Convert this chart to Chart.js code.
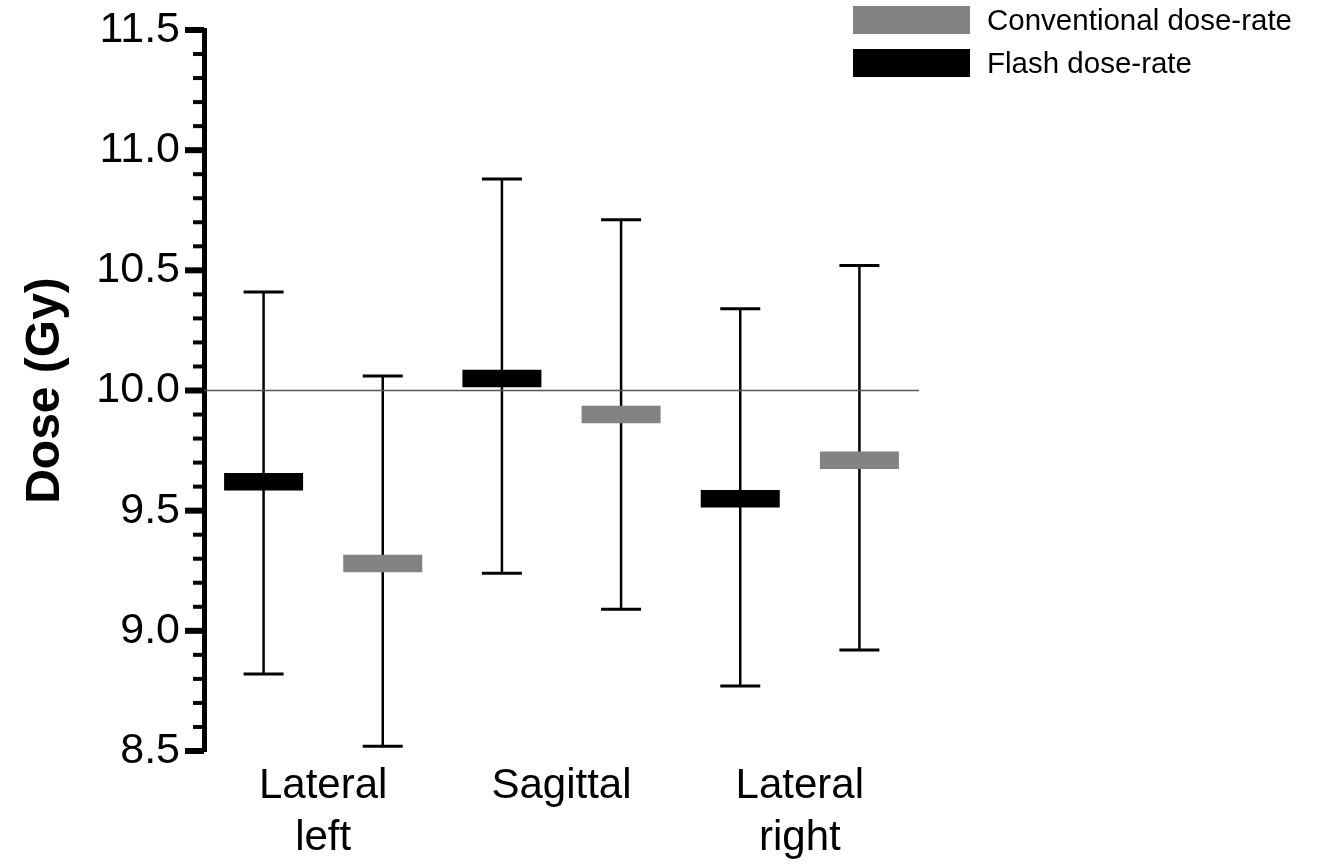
<!DOCTYPE html>
<html>
<head>
<meta charset="utf-8">
<script src="https://cdn.jsdelivr.net/npm/chart.js@4.4.1/dist/chart.umd.min.js"></script>
<style>
  body { margin: 0; background: #fff; }
  #wrap { position: relative; width: 1317px; height: 865px; }
  #legend { position: absolute; left: 853px; top: 6px; font-family: "Liberation Sans", Arial, sans-serif; font-size: 29.5px; color: #000; }
  .item { display: flex; align-items: center; height: 28px; margin-bottom: 15px; }
  .box { width: 117px; height: 28px; margin-right: 17px; }
</style>
</head>
<body>
<div id="wrap">
  <canvas id="chart"></canvas>
  <div id="legend"></div>
</div>
<script>
// groups along the x axis
var groups = [['Lateral', 'left'], ['Sagittal'], ['Lateral', 'right']];

// Flash dose-rate: mean and whisker ends (Gy)
var flashMean = [9.62, 10.05, 9.55];
var flashLow = [8.82, 9.24, 8.77];
var flashHigh = [10.41, 10.88, 10.34];

// Conventional dose-rate
var convMean = [9.28, 9.90, 9.71];
var convLow = [8.52, 9.09, 8.92];
var convHigh = [10.06, 10.71, 10.52];

var prescribed = 10.0;

// each group holds two slots: flash then conventional
var toPoints = (vals, slot) => vals.map((v, i) => ({ x: i * 2 + slot + 0.5, y: v }));

var font = '"Liberation Sans", Arial, sans-serif';

const errorBars = {
    id: 'errorBars',
    beforeDatasetsDraw(chart) {
        const { ctx, scales: { x, y } } = chart;
        ctx.save();
        ctx.strokeStyle = '#000';
        chart.data.datasets.forEach(ds => {
            if (!ds.low) return;
            ds.data.forEach((p, i) => {
                const px = x.getPixelForValue(p.x);
                const top = y.getPixelForValue(ds.high[i]);
                const bot = y.getPixelForValue(ds.low[i]);
                ctx.lineWidth = 2.5;
                ctx.beginPath();
                ctx.moveTo(px, top);
                ctx.lineTo(px, bot);
                ctx.stroke();
                ctx.lineWidth = 3;
                ctx.beginPath();
                ctx.moveTo(px - 20, top);
                ctx.lineTo(px + 20, top);
                ctx.moveTo(px - 20, bot);
                ctx.lineTo(px + 20, bot);
                ctx.stroke();
            });
        });
        ctx.restore();
    }
};

// long ticks on the labelled values, short ones in between
const yTicks = {
    id: 'yTicks',
    afterDraw(chart) {
        const { ctx, chartArea } = chart;
        const y = chart.scales.y;
        ctx.save();
        ctx.strokeStyle = '#000';
        y.ticks.forEach(t => {
            const major = Math.abs(t.value * 2 - Math.round(t.value * 2)) < 1e-6;
            const py = y.getPixelForValue(t.value);
            ctx.lineWidth = major ? 6 : 4;
            ctx.beginPath();
            ctx.moveTo(chartArea.left - (major ? 19 : 11), py);
            ctx.lineTo(chartArea.left, py);
            ctx.stroke();
        });
        ctx.restore();
    }
};

const ctx = document.getElementById('chart').getContext('2d');
var chart = new Chart(ctx, {
    type: 'scatter',
    data: {
        datasets: [{
            label: 'Flash dose-rate',
            data: toPoints(flashMean, 0),
            low: flashLow,
            high: flashHigh,
            backgroundColor: '#000',
            borderColor: '#000',
            pointStyle: 'line',
            pointRadius: 39.5,
            borderWidth: 17.5
        }, {
            label: 'Conventional dose-rate',
            data: toPoints(convMean, 1),
            low: convLow,
            high: convHigh,
            backgroundColor: '#838383',
            borderColor: '#838383',
            pointStyle: 'line',
            pointRadius: 39.5,
            borderWidth: 17.5
        }, {
            type: 'line',
            label: 'reference',
            data: [{ x: 0, y: prescribed }, { x: groups.length * 2, y: prescribed }],
            borderColor: '#555',
            borderWidth: 1.5,
            pointRadius: 0
        }]
    },
    options: {
        responsive: true,
        maintainAspectRatio: false,
        animation: false,
        events: [],
        layout: { autoPadding: false, padding: { top: 30, right: 398, left: 0, bottom: 0 } },
        plugins: {
            legend: { display: false },
            tooltip: { enabled: false }
        },
        scales: {
            x: {
                type: 'linear',
                min: 0,
                max: groups.length * 2,
                afterBuildTicks: s => { s.ticks = groups.map((g, i) => ({ value: i * 2 + 1 })); },
                afterFit: s => { s.height = 114; },
                grid: { display: false, drawTicks: false },
                border: { display: false },
                ticks: {
                    padding: 10,
                    color: '#000',
                    font: { family: font, size: 42, lineHeight: 1.23 },
                    callback: (v) => groups[(v - 1) / 2]
                }
            },
            y: {
                min: 8.5,
                max: 11.5,
                afterFit: s => { s.width = 204; },
                // tick marks are drawn by the yTicks plugin; tickLength only spaces the labels
                grid: { display: false, drawTicks: true, tickLength: 20 },
                border: { display: true, color: '#000', width: 5 },
                ticks: {
                    stepSize: 0.1,
                    autoSkip: false,
                    padding: 4,
                    color: '#000',
                    font: { family: font, size: 43 },
                    callback: v => Math.abs(v * 2 - Math.round(v * 2)) < 1e-6 ? v.toFixed(1) : ''
                },
                title: {
                    display: true,
                    text: 'Dose (Gy)',
                    color: '#000',
                    font: { family: font, size: 48, weight: 'bold' },
                    padding: { top: 17, bottom: 0 }
                }
            }
        }
    },
    plugins: [errorBars, yTicks]
});

// legend: conventional listed first
var legendEl = document.getElementById('legend');
[chart.data.datasets[1], chart.data.datasets[0]].forEach(ds => {
    var row = document.createElement('div');
    row.className = 'item';
    row.innerHTML = '<span class="box" style="background:' + ds.borderColor + '"></span><span>' + ds.label + '</span>';
    legendEl.appendChild(row);
});
</script>
</body>
</html>
